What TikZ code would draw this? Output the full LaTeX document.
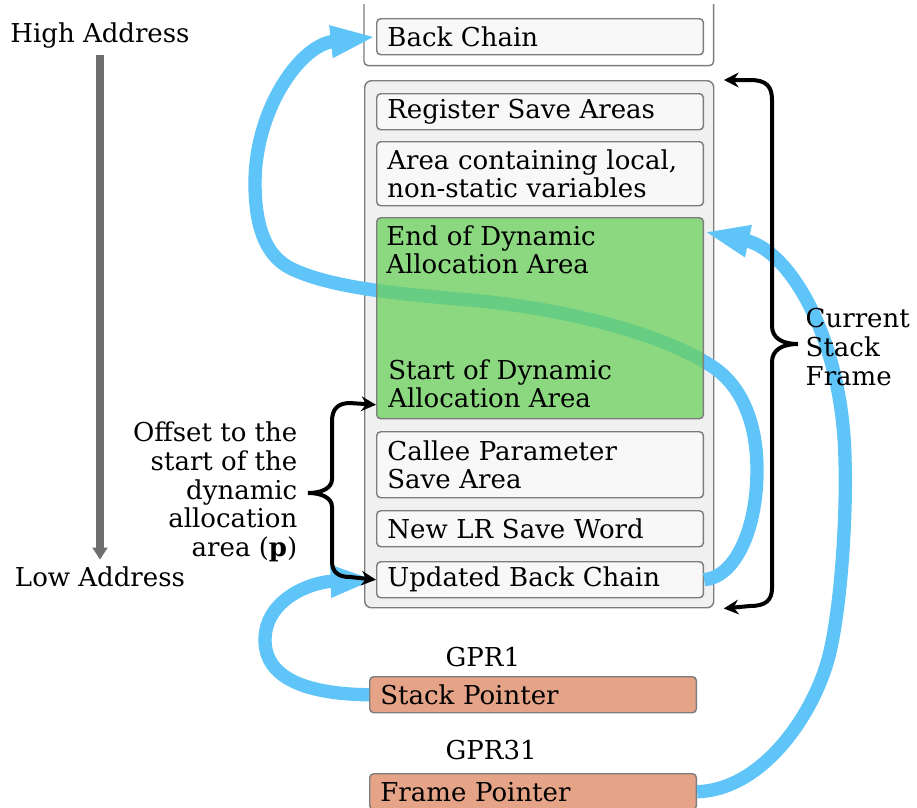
\documentclass[tikz,border=0pt]{standalone}
\usepackage{fontspec}
\setmainfont{DejaVu Serif}
\usetikzlibrary{arrows.meta,positioning,calc}

\definecolor{linkblue}{RGB}{95,196,248}
\definecolor{dyngreen}{RGB}{107,209,91}
\definecolor{regsalmon}{RGB}{229,163,135}
\definecolor{slotfill}{RGB}{248,248,248}
\definecolor{slotline}{RGB}{125,125,125}
\definecolor{framefill}{RGB}{240,240,240}
\definecolor{addrgray}{RGB}{110,110,110}

\tikzset{
  every node/.style={font=\fontsize{19.5}{21.5}\selectfont},
  slot/.style={draw=slotline, fill=slotfill, line width=1.1pt, rounded corners=3pt,
    anchor=north west, minimum height=27pt, text width=229pt,
    inner xsep=8pt, inner ysep=2pt, align=left},
  register/.style={slot, fill=regsalmon},
  link/.style={draw=linkblue, line width=10pt, -{Triangle[length=34pt,width=22pt]}},
  bracearrow/.style={line width=3pt, {Stealth[length=11pt,width=11pt]}-{Stealth[length=11pt,width=11pt]}},
}

\begin{document}
\begin{tikzpicture}[x=0.75pt,y=-0.75pt]
            \useasboundingbox (0,0) rectangle (917,807);

            % Address direction
            \node (high) at (100,36) {High Address};
            \node (low) at (100,577) {Low Address};
            \draw[addrgray, line width=6pt, -{Triangle[length=9pt,width=11pt]}] ([yshift=-1pt]high.south) -- ([yshift=2pt]low.north);

            % Caller frame (top)
            \node[anchor=north west, minimum width=261.75pt, minimum height=45.75pt, inner sep=0] (topbox) at (364,4) {};
            \draw[slotline, line width=1.1pt, rounded corners=3pt] (topbox.north west) -- (topbox.south west) -- (topbox.south east) -- (topbox.north east);
            \node[slot] (backchain) at (376,18) {Back Chain};

            % Current frame
            \node[draw=slotline, fill=framefill, line width=1.1pt, rounded corners=5pt, anchor=north west,
                  minimum width=261.75pt, minimum height=395.25pt, inner sep=0] (frame) at (364,80) {};
            \node[slot] (regsave) at (376,93) {Register Save Areas};
            \node[slot, minimum height=48pt] (locals) at (376,141) {Area containing local,\\non-static variables};
            \node[slot, minimum height=49.5pt] (callee) at (376,431) {Callee Parameter\\Save Area};
            \node[slot] (newlr) at (376,510) {New LR Save Word};
            \node[slot] (ubc) at (376,561) {Updated Back Chain};

            % Back chain link (under the dynamic area)
            \draw[link] (ubc.east) .. controls (735,577) and (757,530) .. (757,470)
                .. controls (757,420) and (740,385) .. (713,367)
                .. controls (660,332) and (560,308) .. (470,300)
                .. controls (400,294) and (330,288) .. (290,268)
                .. controls (265,255) and (255,225) .. (255,183)
                .. controls (255,110) and (300,45) .. (backchain.west);

            % Dynamic allocation area
            \node[slot, fill=dyngreen, fill opacity=0.75, text opacity=1, minimum height=150.75pt] (dyn) at (376,217) {};
            \node[anchor=north west, inner sep=0, align=left] (dynend) at (386,225) {End of Dynamic\\Allocation Area};
            \node[anchor=north west, inner sep=0, align=left] (dynstart) at (388,359) {Start of Dynamic\\Allocation Area};

            % Registers
            \node[anchor=west] (gpr1) at (441,657) {GPR1};
            \node[register] (sp) at (369,676) {Stack Pointer};
            \node[anchor=west] (gpr31) at (441,750) {GPR31};
            \node[register] (fp) at (369,773) {Frame Pointer};

            \draw[link] (sp.west) .. controls (300,694) and (265,675) .. (265,640)
                .. controls (265,600) and (310,582) .. (ubc.west);
            \draw[link] (fp.east) .. controls (760,790) and (810,720) .. (827,663)
                .. controls (840,620) and (847,520) .. (845,460)
                .. controls (843,340) and (790,250) .. ([yshift=-11pt]dyn.north east);

            % Braces
            \draw[bracearrow] ([xshift=7pt]frame.north east) -- (750,80) .. controls (766,80) and (772,86) .. (772,100)
                -- (772,326) .. controls (772,338) and (782,344) .. (798,344)
                .. controls (782,344) and (772,350) .. (772,362)
                -- (772,588) .. controls (772,600) and (766,606) .. (750,606) -- ([xshift=7pt]frame.south east);
            \node[anchor=west, align=left] (curframe) at (801,347) {Current\\Stack\\Frame};

            \draw[bracearrow] ([yshift=11pt]dyn.south west) -- (350,403) .. controls (338,403) and (332,409) .. (332,421)
                -- (332,479) .. controls (332,488) and (322,493) .. (308,493)
                .. controls (322,493) and (332,498) .. (332,507)
                -- (332,561) .. controls (332,572) and (338,577) .. (350,577) -- (ubc.west);
            \node[anchor=east, align=right] (offset) at (302,492) {Offset to the\\start of the\\dynamic\\allocation\\area (\textbf{p})};
\end{tikzpicture}
\end{document}
